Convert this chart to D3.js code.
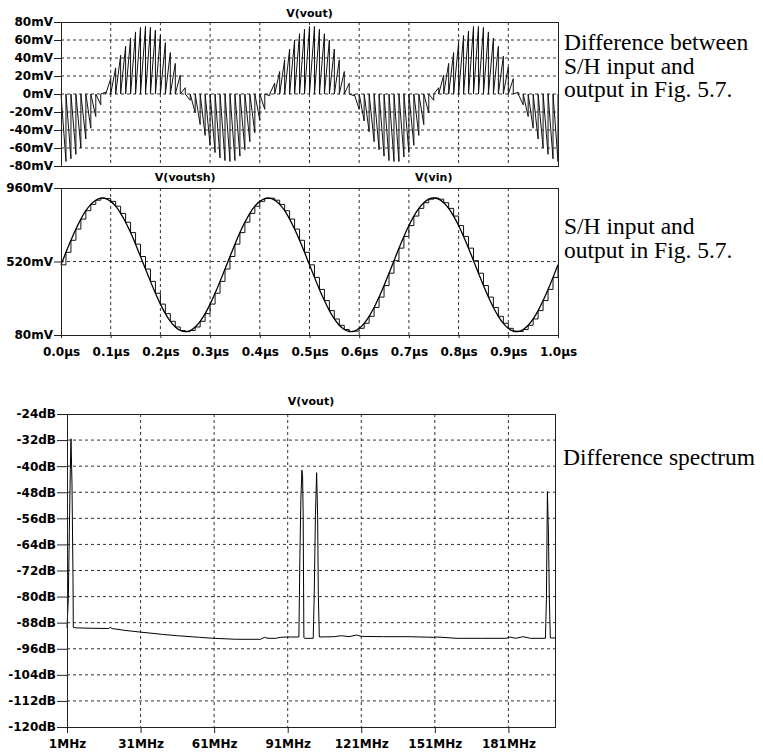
<!DOCTYPE html>
<html>
<head>
<meta charset="utf-8">
<script src="https://cdn.jsdelivr.net/npm/d3@7"></script>
<style>
  body { margin: 0; background: #fff; }
  .tick text { font-family: "DejaVu Sans", sans-serif; font-weight: bold; fill: #000; }
  .note { font-family: "Liberation Serif", "Times New Roman", serif; font-size: 23.5px; fill: #000; }
  .title { font-family: "DejaVu Sans", sans-serif; font-weight: bold; font-size: 11px; fill: #000; }
</style>
</head>
<body>
<div id="wrapper"></div>
<script>
// 1. Data

// V(vin) at each 10 ns sample, mV
const vinSamples = [500,575,647,714,774,824,862,887,899,897,880,
  851,808,755,693,624,550,475,401,330,265,
  208,162,128,107,100,107,128,162,208,265,
  330,401,475,550,624,693,755,808,851,880,
  897,899,887,862,824,774,714,647,575,500,
  425,353,286,226,176,138,113,101,103,120,
  150,192,245,307,376,450,525,600,670,735,
  792,838,872,893,900,893,872,838,792,735,
  670,600,525,450,376,307,245,192,150,120,
  103,101,113,138,176,226,286,353,425,500]
const sampleStepUs = 0.01

// V(vout) at the end of each hold period, mV (starts from 0 after each sample)
const voutPeaks = [-75,-72,-67,-60,-50,-38,-25,-12,2,17,
  29,43,53,62,69,74,75,74,71,65,
  57,46,34,21,7,-7,-21,-34,-46,-57,
  -65,-71,-74,-75,-74,-69,-62,-53,-43,-29,
  -17,-2,12,25,38,50,60,67,72,75,
  75,72,67,60,50,38,25,12,-2,-17,
  -30,-42,-53,-62,-69,-74,-75,-75,-70,-65,
  -57,-46,-34,-21,-7,7,21,34,46,57,
  65,70,75,75,74,69,62,53,42,30,
  17,2,-12,-25,-38,-50,-60,-67,-72,-75]

// difference spectrum
const specFreqMHz = [1.0,1.54,1.95,2.36,2.63,3.04,3.45,3.58,5,10,18,18.6,19.4,25,31,40,46,55,61,70,80,81.5,83,86,88,91,95.56,
  95.97,96.38,96.79,97.07,97.3,97.6,98,101.4,101.8,102.3,102.8,103.2,103.5,103.9,
  110,112.9,116,119.1,121,130,140,150.6,152,160,170,180,181.6,184,187,190,196.1,
  196.5,196.9,197.3,197.7,198.1,200]
const specDb = [-89.6,-80.6,-60,-41,-31.6,-45.6,-74.5,-89.5,-89.6,-89.7,-89.8,-89.4,-89.8,-90.4,-90.9,-91.6,-92.0,-92.5,-92.8,-93.1,-93.1,-92.5,-92.8,-92.8,-92.5,-92.4,-92.4,
  -67.7,-50,-41.2,-43,-54.4,-92.6,-92.8,-92.8,-80,-55,-42,-55,-80,-92.4,
  -92.3,-92.0,-92.3,-91.8,-92.2,-92.3,-92.3,-92.5,-92.4,-92.8,-92.8,-92.8,-92.4,-92.8,-92.3,-92.8,-92.8,
  -81,-47.8,-59.6,-81,-92.7,-92.7]

const voutTicks = [80,60,40,20,0,-20,-40,-60,-80]
const vinTicks = [960,520,80]
const timeTicks = [0,0.1,0.2,0.3,0.4,0.5,0.6,0.7,0.8,0.9,1.0]
const freqTicks = [1,31,61,91,121,151,181]
const dbTicks = [-24,-32,-40,-48,-56,-64,-72,-80,-88,-96,-104,-112,-120]

// 2. Dimensions

const dimensions = { width: 763, height: 755 }
const panes = {
  vout: { left: 61, right: 558, top: 22, bottom: 166 },
  sh:   { left: 61, right: 558, top: 188, bottom: 335 },
  spec: { left: 67, right: 555, top: 414, bottom: 727 },
}

// 3. Canvas

const wrapper = d3.select("#wrapper")
  .append("svg")
  .attr("width", dimensions.width)
  .attr("height", dimensions.height)

function drawGrid(g, x, y, xVals, yVals, p) {
  g.append("g").selectAll("line").data(xVals).join("line")
    .attr("x1", d => x(d)).attr("x2", d => x(d))
    .attr("y1", p.top).attr("y2", p.bottom)
    .attr("stroke", "#333").attr("stroke-dasharray", "3,3")
  g.append("g").selectAll("line").data(yVals).join("line")
    .attr("x1", p.left).attr("x2", p.right)
    .attr("y1", d => y(d)).attr("y2", d => y(d))
    .attr("stroke", "#333").attr("stroke-dasharray", "3,3")
}

function drawFrame(g, p) {
  g.append("rect")
    .attr("x", p.left + 0.5).attr("y", p.top + 0.5)
    .attr("width", p.right - p.left).attr("height", p.bottom - p.top)
    .attr("fill", "none").attr("stroke", "#222")
}

function styleAxis(axisG) {
  axisG.select(".domain").remove()
  axisG.selectAll(".tick line").attr("stroke", "#222")
  axisG.selectAll(".tick text").attr("font-size", 12)
  axisG.attr("font-family", null).attr("font-size", null)
}

function title(text, x, y) {
  wrapper.append("text").attr("class", "title")
    .attr("x", x).attr("y", y).attr("text-anchor", "middle").text(text)
}

// one text element per line so each line keeps its own box
function note(lines, x, y0, step) {
  lines.forEach((s, i) => wrapper.append("text").attr("class", "note")
    .attr("x", x).attr("y", y0 + i * step).text(s))
}

// 4. Top pane: V(vout)

{
  const p = panes.vout
  const x = d3.scaleLinear().domain([0, 1]).range([p.left, p.right])
  const y = d3.scaleLinear().domain([-80, 80]).range([p.bottom, p.top])
  const g = wrapper.append("g")
  drawGrid(g, x, y, timeTicks.slice(1, -1), voutTicks.slice(1, -1), p)

  const pts = []
  voutPeaks.forEach((v, k) => {
    pts.push([k * sampleStepUs, 0])
    pts.push([(k + 1) * sampleStepUs, v])
  })
  pts.push([1, 0])
  g.append("path")
    .attr("d", d3.line().x(d => x(d[0])).y(d => y(d[1]))(pts))
    .attr("fill", "none").attr("stroke", "#111").attr("stroke-width", 1)

  drawFrame(g, p)
  const ax = g.append("g").attr("transform", `translate(${p.left},0)`)
    .call(d3.axisLeft(y).tickValues(voutTicks).tickSize(7).tickPadding(1).tickFormat(d => d + "mV"))
  styleAxis(ax)
  title("V(vout)", (p.left + p.right) / 2, 17)
}

// 5. Middle pane: V(voutsh), V(vin)

{
  const p = panes.sh
  const x = d3.scaleLinear().domain([0, 1]).range([p.left, p.right])
  const y = d3.scaleLinear().domain([80, 960]).range([p.bottom, p.top])
  const g = wrapper.append("g")
  drawGrid(g, x, y, timeTicks.slice(1, -1), [520], p)

  const samples = vinSamples.map((v, k) => [k * sampleStepUs, v])
  g.append("path")
    .attr("d", d3.line().x(d => x(d[0])).y(d => y(d[1])).curve(d3.curveStepAfter)(samples))
    .attr("fill", "none").attr("stroke", "#111").attr("stroke-width", 1)
  g.append("path")
    .attr("d", d3.line().x(d => x(d[0])).y(d => y(d[1])).curve(d3.curveNatural)(samples))
    .attr("fill", "none").attr("stroke", "#000").attr("stroke-width", 1.3)

  drawFrame(g, p)
  const ay = g.append("g").attr("transform", `translate(${p.left},0)`)
    .call(d3.axisLeft(y).tickValues(vinTicks).tickSize(7).tickPadding(1).tickFormat(d => d + "mV"))
  styleAxis(ay)
  const ax = g.append("g").attr("transform", `translate(0,${p.bottom})`)
    .call(d3.axisBottom(x).tickValues(timeTicks).tickSize(3).tickPadding(9).tickFormat(d => d3.format(".1f")(d) + "µs"))
  styleAxis(ax)
  const w = p.right - p.left
  title("V(voutsh)", p.left + w / 4, 181)
  title("V(vin)", p.left + 3 * w / 4, 181)
}

// 6. Bottom pane: spectrum

{
  const p = panes.spec
  const x = d3.scaleLinear().domain([1, 200]).range([p.left, p.right])
  const y = d3.scaleLinear().domain([-120, -24]).range([p.bottom, p.top])
  const g = wrapper.append("g")
  drawGrid(g, x, y, freqTicks.slice(1), dbTicks.slice(1, -1), p)

  const pts = specFreqMHz.map((f, i) => [f, specDb[i]])
  g.append("path")
    .attr("d", d3.line().x(d => x(d[0])).y(d => y(d[1]))(pts))
    .attr("fill", "none").attr("stroke", "#000").attr("stroke-width", 1)

  drawFrame(g, p)
  const ay = g.append("g").attr("transform", `translate(${p.left},0)`)
    .call(d3.axisLeft(y).tickValues(dbTicks).tickSize(10).tickPadding(1).tickFormat(d => d + "dB"))
  styleAxis(ay)
  const ax = g.append("g").attr("transform", `translate(0,${p.bottom})`)
    .call(d3.axisBottom(x).tickValues(freqTicks).tickSize(6).tickPadding(6).tickFormat(d => d + "MHz"))
  styleAxis(ax)
  title("V(vout)", (p.left + p.right) / 2, 405)
}

// 7. Notes on the right

note(["Difference between", "S/H input and", "output in Fig. 5.7."], 564, 50, 23.5)
note(["S/H input and", "output in Fig. 5.7."], 564, 234, 23.5)
note(["Difference spectrum"], 563, 465, 23.5)
</script>
</body>
</html>
